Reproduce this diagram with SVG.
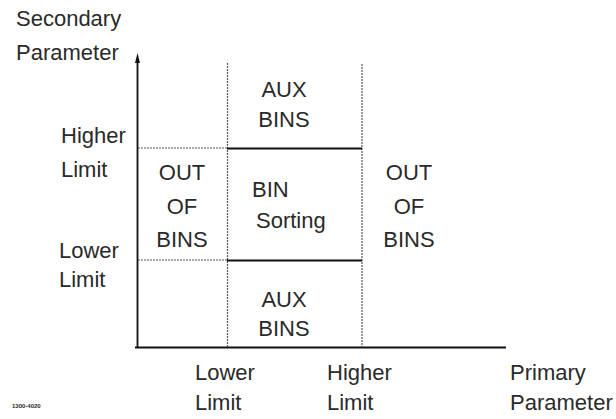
<svg xmlns="http://www.w3.org/2000/svg" width="616" height="419" viewBox="0 0 616 419">
<style>
text{font-family:"Liberation Sans",Arial,sans-serif;font-size:22px;fill:#2a2a2a}
.c{text-anchor:middle}
.axis{stroke:#111;stroke-width:1.8;fill:none}
.dot{stroke:#555;stroke-width:1.2;stroke-dasharray:2 1;fill:none}
.solid{stroke:#111;stroke-width:2;fill:none}
.tiny{font-size:6px;font-weight:bold}
</style>
<rect width="616" height="419" fill="#fff"/>
<g id="connectors">
<line class="axis" x1="137.5" y1="348" x2="137.5" y2="60"/>
<polygon points="137.5,53 140,63 135,63" fill="#111"/>
<line class="axis" x1="135" y1="347.5" x2="506" y2="347.5"/>
<line class="dot" x1="227.5" y1="63" x2="227.5" y2="347"/>
<line class="dot" x1="362" y1="64" x2="362" y2="347"/>
<line class="dot" x1="138" y1="148" x2="227" y2="148"/>
<line class="solid" x1="227" y1="148.5" x2="362" y2="148.5"/>
<line class="dot" x1="138" y1="260" x2="227" y2="260"/>
<line class="solid" x1="227" y1="260.5" x2="362" y2="260.5"/>
</g>
<g id="secondary-axis-label"><text x="16" y="26">Secondary</text><text x="16" y="60">Parameter</text></g>
<g id="secondary-higher-limit"><text x="61" y="143">Higher</text><text x="61" y="177">Limit</text></g>
<g id="secondary-lower-limit"><text x="59" y="258">Lower</text><text x="59" y="287">Limit</text></g>
<g id="aux-bins-top"><text class="c" x="284" y="97">AUX</text><text class="c" x="284" y="127">BINS</text></g>
<g id="out-of-bins-left"><text class="c" x="182" y="180">OUT</text><text class="c" x="182" y="214">OF</text><text class="c" x="182" y="247">BINS</text></g>
<g id="bin-sorting"><text x="252" y="197">BIN</text><text x="256" y="228">Sorting</text></g>
<g id="out-of-bins-right"><text class="c" x="409" y="180">OUT</text><text class="c" x="409" y="214">OF</text><text class="c" x="409" y="247">BINS</text></g>
<g id="aux-bins-bottom"><text class="c" x="284" y="307">AUX</text><text class="c" x="284" y="336">BINS</text></g>
<g id="primary-lower-limit"><text x="195" y="380">Lower</text><text x="195" y="410">Limit</text></g>
<g id="primary-higher-limit"><text x="327" y="380">Higher</text><text x="327" y="410">Limit</text></g>
<g id="primary-axis-label"><text x="510" y="380">Primary</text><text x="510" y="410">Parameter</text></g>
<g id="figure-number"><text class="tiny" x="12" y="408">1300-4020</text></g>
</svg>
